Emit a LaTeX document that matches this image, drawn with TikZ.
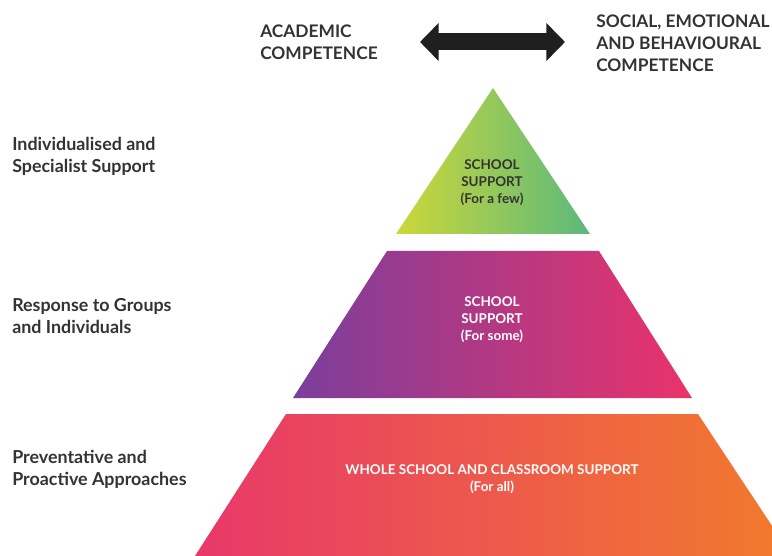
\documentclass[tikz,border=0pt]{standalone}
\usepackage{fontspec}
\setmainfont{Lato}
\usetikzlibrary{arrows.meta}
\definecolor{ink}{HTML}{333333}
\definecolor{arrowink}{HTML}{1F1F1F}
\definecolor{fewL}{HTML}{CDD73A}
\definecolor{fewR}{HTML}{5BB97C}
\definecolor{someL}{HTML}{7B3E9C}
\definecolor{someR}{HTML}{EA336A}
\definecolor{allL}{HTML}{E8386A}
\definecolor{allR}{HTML}{F27B2C}

\begin{document}
\begin{tikzpicture}[x=0.75pt, y=-0.75pt,
    level/.style={font=\fontsize{13.4}{16.5}\selectfont\bfseries, text=ink,
      align=left, anchor=west, inner sep=0pt},
    head/.style={font=\fontsize{13}{16.5}\selectfont\bfseries, text=ink,
      align=left, anchor=west, inner sep=0pt},
    tier/.style={font=\fontsize{10.1}{12.8}\selectfont\bfseries, align=center,
      inner sep=0pt},
    biarrow/.style={line width=12.75pt, arrowink,
      {Triangle[width=27.75pt,length=14pt]}-{Triangle[width=27.75pt,length=14pt]}}
  ]
  \useasboundingbox (0,0) rectangle (772,556);
  \clip (0,0) rectangle (772,556);

  \shade[left color=fewL, right color=fewR]
    (493,88) -- (590,234) -- (396,234) -- cycle;
  \shade[left color=someL, right color=someR]
    (387,251) -- (599,251) -- (692,398) -- (293,398) -- cycle;
  \shade[left color=allL, right color=allR]
    (286,414) -- (698,414) -- (792,556) -- (195,556) -- cycle;

  \node[tier, text=ink] (few) at (492,183) {SCHOOL\\SUPPORT\\(For a few)};
  \node[tier, text=white] (some) at (492,320) {SCHOOL\\SUPPORT\\(For some)};
  \node[tier, text=white] (all) at (492,479) {WHOLE SCHOOL AND CLASSROOM SUPPORT\\(For all)};

  \node[level] (specialist) at (12,156) {Individualised and\\Specialist Support};
  \node[level] (groups) at (12,316) {Response to Groups\\and Individuals};
  \node[level] (proactive) at (12,469) {Preventative and\\Proactive Approaches};

  \node[head] (academic) at (260,42) {ACADEMIC\\COMPETENCE};
  \node[head] (social) at (596,43) {SOCIAL, EMOTIONAL\\AND BEHAVIOURAL\\COMPETENCE};

  \coordinate (leftend) at (420,42);
  \coordinate (rightend) at (565,42);
  \draw[biarrow] (leftend) -- (rightend);
\end{tikzpicture}
\end{document}
